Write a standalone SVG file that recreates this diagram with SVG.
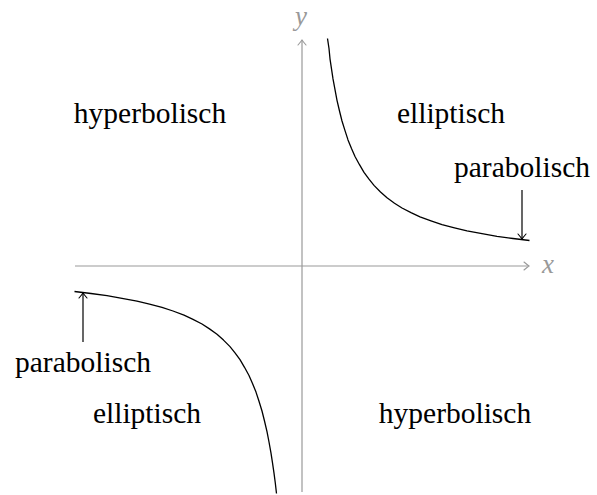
<svg xmlns="http://www.w3.org/2000/svg" width="597" height="495" viewBox="0 0 597 495">
<style>
.lbl{font-family:"Liberation Serif","DejaVu Serif",serif;font-size:29.5px;fill:#000;text-anchor:middle}
.ax{font-family:"Liberation Serif","DejaVu Serif",serif;font-style:italic;font-size:27px;fill:#999;text-anchor:middle}
.axis{stroke:#999;stroke-width:1.2;fill:none}
.curve{stroke:#000;stroke-width:1.3;fill:none;stroke-linejoin:round}
.arr{stroke:#000;stroke-width:1.2;fill:none}
</style>
<defs>
<marker id="tipg" viewBox="-6 -5 8 10" markerWidth="8" markerHeight="10" refX="0" refY="0" orient="auto" markerUnits="userSpaceOnUse">
<path d="M-5,-4 Q-1.5,-1 0,0 Q-1.5,1 -5,4" stroke="#999" stroke-width="1.1" fill="none" stroke-linecap="round"/>
</marker>
<marker id="tipk" viewBox="-6 -5 8 10" markerWidth="8" markerHeight="10" refX="0" refY="0" orient="auto" markerUnits="userSpaceOnUse">
<path d="M-5,-4 Q-1.5,-1 0,0 Q-1.5,1 -5,4" stroke="#000" stroke-width="1.1" fill="none" stroke-linecap="round"/>
</marker>
</defs>
<g id="axes">
<line class="axis" x1="75" y1="266" x2="529" y2="266" marker-end="url(#tipg)"/>
<line class="axis" x1="302" y1="492" x2="302" y2="40" marker-end="url(#tipg)"/>
<text class="ax" x="548" y="273">x</text>
<text class="ax" x="301" y="25">y</text>
</g>
<g id="connectors">
<polyline class="curve" points="327.5,38.5 329,48.5 330,58.8 331.5,68.8 333,78.9 335,89.6 337,100.3 339.5,111 342,121 345,130.6 348,139.9 351.5,148.5 355,156.5 359.5,164.7 364,172.4 369,179.2 374,185.4 380.5,192 387,197.8 394.5,203.2 402,208 411,212.6 420,216.8 431,220.8 442,224.6 454.5,227.8 467,230.8 482,233.7 497,236.3 513,238.5 529.5,240.5"/>
<polyline class="curve" points="74.5,291.5 91,293.5 107,295.7 122,298.3 137,301.2 149.5,304.2 162,307.4 173,311 184,315.2 193,319.4 202,324 209.5,328.9 217,334.2 223.5,340.1 230,346.6 235,352.8 240,359.6 244.5,367.3 249,375.5 252.5,383.4 256,392.1 259,401.2 262,411 264.5,421 267,431.7 269,442 271,453.1 272.5,462.9 274,473.2 275.3,483 276.5,493.5"/>
<line class="arr" x1="522" y1="190" x2="522" y2="239" marker-end="url(#tipk)"/>
<line class="arr" x1="83" y1="342" x2="83" y2="293" marker-end="url(#tipk)"/>
</g>
<g id="n1"><text class="lbl" x="150" y="123">hyperbolisch</text></g>
<g id="n2"><text class="lbl" x="451" y="123">elliptisch</text></g>
<g id="n3"><text class="lbl" x="522" y="177">parabolisch</text></g>
<g id="n4"><text class="lbl" x="83" y="372">parabolisch</text></g>
<g id="n5"><text class="lbl" x="147" y="423">elliptisch</text></g>
<g id="n6"><text class="lbl" x="455" y="423">hyperbolisch</text></g>
</svg>
